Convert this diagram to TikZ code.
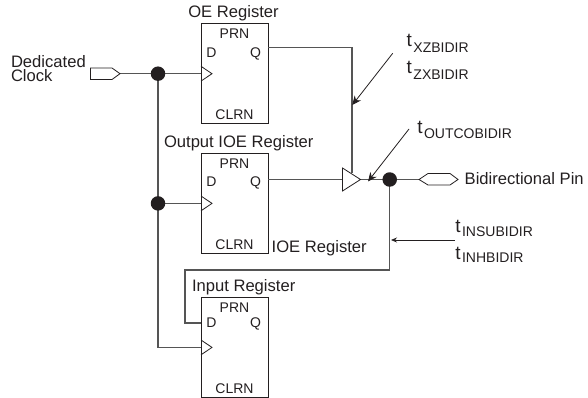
\documentclass[tikz,border=0pt]{standalone}
\usepackage{fontspec}
\setmainfont{Liberation Sans}
\usetikzlibrary{arrows.meta}
\definecolor{ink}{HTML}{231F20}
\definecolor{wire}{HTML}{555555}
\newcommand{\lbl}{\fontsize{16.6}{13.7}\selectfont}
\newcommand{\inner}{\fontsize{14}{15}\selectfont}
\newcommand{\tm}[2]{\fontsize{19}{20}\selectfont t\kern1.5pt\raisebox{-#1pt}{\fontsize{14}{15}\selectfont #2}}
\tikzset{
  x=1pt,y=-1pt,
  every node/.style={text=ink,inner sep=0pt,outer sep=0pt},
  wireline/.style={draw=wire,line width=1.15pt},
  box/.style={draw=ink,line width=0.9pt,fill=white},
  dotjoin/.style={circle,fill=ink,minimum size=14.5pt},
  tiparrow/.style={draw=ink,line width=0.8pt,-{Stealth[length=9pt,width=8pt]}},
  lab/.style={anchor=base west,font=\lbl},
  pinlab/.style={anchor=base,font=\inner},
}
\newcommand{\reg}[5]{% name, top y, text baseline offset, Q offset, D offset
  \coordinate (#1TL) at (201,#2);
  \coordinate (#1BR) at (268,#2+100.5);
  \draw[box] (#1TL) rectangle (#1BR);
  \node[pinlab] (#1prn) at (234.5,#2+15.5) {PRN};
  \node[pinlab] (#1d) at (211.5,#2+#3) {D};
  \node[pinlab] (#1q) at (255.5,#2+#3) {Q};
  \node[pinlab] (#1clrn) at (234.5,#2+96) {CLRN};
  \coordinate (#1D) at (201,#2+#5);
  \coordinate (#1Q) at (268,#2+#4);
  \coordinate (#1CK) at (201,#2+50.4);
  \draw[draw=ink,line width=0.8pt] (201,#2+43) -- (212,#2+50.4) -- (201,#2+57.8);
}
\begin{document}
\begin{tikzpicture}
\useasboundingbox (0,0) rectangle (588,398);
% registers
\reg{oe}{23.3}{34}{24.3}{26}
\reg{out}{153}{33}{26.5}{26}
\reg{inp}{297}{30.5}{26}{26}
% titles
\node[lab] (t1) at (188.3,17.7) {OE Register};
\node[lab] (t2) at (164,147) {Output IOE Register};
\node[lab] (t3) at (271.7,252) {IOE Register};
\node[lab] (t4) at (192,291) {Input Register};
% clock
\node[lab,align=left] (c1) at (11,81.7) {Dedicated\\Clock};
\coordinate (clkpin) at (120,73.7);
\coordinate (d1) at (158,73.7);
\coordinate (d2) at (158,203.4);
\coordinate (d3) at (389.7,179.5);
\coordinate (buf) at (342.5,179.5);
\coordinate (bufo) at (360.5,179.5);
\coordinate (bufc) at (352,173);
\coordinate (pin) at (419,179.5);
\draw[wireline] (clkpin) -- (d1) -- (oeCK);
\draw[wireline] (d1) -- (d2) |- (inpCK);
\draw[wireline] (d2) -- (outCK);
\draw[wireline] (oeQ) -| (bufc);
\draw[wireline] (outQ) -- (buf);
\draw[wireline] (bufo) -- (pin);
\draw[wireline] (d3) -- (389.7,270) -- (185,270) |- (inpD);
\draw[draw=ink,line width=0.8pt] (90.5,68) -- (112,68) -- (120,73.7) -- (112,79.5) -- (90.5,79.5) -- cycle;
\draw[draw=ink,line width=0.8pt,fill=white] (buf|-0,168) -- (bufo) -- (buf|-0,191) -- cycle;
\draw[draw=ink,line width=0.8pt,fill=white] (419,179.5) -- (428,173.5) -- (450,173.5) -- (458,179.5) -- (450,185) -- (428,185) -- cycle;
\node[dotjoin] (n1) at (d1) {};
\node[dotjoin] (n2) at (d2) {};
\node[dotjoin] (n3) at (d3) {};
\node[lab] (t5) at (464.7,184) {Bidirectional Pin};
% timing
\node[anchor=base west] (x1) at (406.7,46.7) {\tm{6}{XZBIDIR}};
\coordinate (a1s) at (392.7,53.3);
\coordinate (a1e) at (352.3,105);
\draw[tiparrow] (a1s) -- (a1e);
\node[anchor=base west] (x2) at (406.7,73.5) {\tm{6}{ZXBIDIR}};
\node[anchor=base west] (x3) at (417.3,134) {\tm{4.3}{OUTCOBIDIR}};
\coordinate (a2s) at (409,129);
\coordinate (a2e) at (368,181.5);
\draw[tiparrow] (a2s) -- (a2e);
\node[anchor=base west] (x4) at (455.3,232.7) {\tm{3.6}{INSUBIDIR}};
\node[anchor=base west] (x5) at (455.3,259) {\tm{3.7}{INHBIDIR}};
\coordinate (a3s) at (454.5,240);
\coordinate (a3e) at (391,240);
\draw[draw=ink,line width=0.8pt,-{Stealth[length=6pt,width=5pt]}] (a3s) -- (a3e);
\end{tikzpicture}
\end{document}
